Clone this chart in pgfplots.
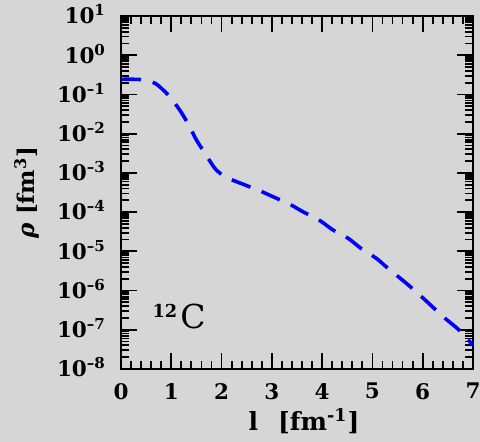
\documentclass[border=0pt]{standalone}
\usepackage{pgfplots}
\pgfplotsset{compat=1.18}
\usepackage{fontspec}
\setmainfont{DejaVu Serif}
\definecolor{bg}{rgb}{0.84,0.84,0.84}
\definecolor{curve}{rgb}{0,0,1}
\begin{document}
\begin{tikzpicture}
\fill[bg] (-60.5pt,-36.5pt) rectangle (179.5pt,184.5pt);
\useasboundingbox (-60.5pt,-36.5pt) rectangle (179.5pt,184.5pt);
\begin{axis}[
  at={(0,0)}, anchor=south west,
  scale only axis, width=176pt, height=176.5pt,
  ymode=log, log basis y=10,
  xmin=0, xmax=7, ymin=1e-8, ymax=1e1,
  xtick={0,1,2,3,4,5,6,7}, minor x tick num=4,
  ytick={1e-8,1e-7,1e-6,1e-5,1e-4,1e-3,1e-2,1e-1,1,10},
  yticklabels={10\smash{\textsuperscript{–8}},10\smash{\textsuperscript{–7}},10\smash{\textsuperscript{–6}},10\smash{\textsuperscript{–5}},10\smash{\textsuperscript{–4}},10\smash{\textsuperscript{–3}},10\smash{\textsuperscript{–2}},10\smash{\textsuperscript{–1}},10\smash{\textsuperscript{0}},10\smash{\textsuperscript{1}}},
  minor ytick={2e-8,3e-8,4e-8,5e-8,6e-8,7e-8,8e-8,9e-8,
               2e-7,3e-7,4e-7,5e-7,6e-7,7e-7,8e-7,9e-7,
               2e-6,3e-6,4e-6,5e-6,6e-6,7e-6,8e-6,9e-6,
               2e-5,3e-5,4e-5,5e-5,6e-5,7e-5,8e-5,9e-5,
               2e-4,3e-4,4e-4,5e-4,6e-4,7e-4,8e-4,9e-4,
               2e-3,3e-3,4e-3,5e-3,6e-3,7e-3,8e-3,9e-3,
               2e-2,3e-2,4e-2,5e-2,6e-2,7e-2,8e-2,9e-2,
               0.2,0.3,0.4,0.5,0.6,0.7,0.8,0.9,
               2,3,4,5,6,7,8,9},
  xticklabels={0,1,2,3,4,5,6,7},
  ticklabel style={font=\fontsize{10.75}{12}\selectfont\bfseries},
  /pgf/number format/assume math mode=true,
  yticklabel style={xshift=-4pt},
  xticklabel style={yshift=-3.5pt},
  major tick length=8pt, minor tick length=4pt,
  every tick/.style={black, line width=0.9pt},
  axis line style={line width=1.3pt},
  tick align=inside,
  xlabel={l\hspace{10pt}[fm\textsuperscript{-1}]},
  ylabel={\textit{ρ} [fm\textsuperscript{3}]},
  xlabel style={font=\fontsize{12.5}{14}\selectfont\bfseries, at={(axis description cs:0.52,-0.147)}, anchor=center},
  ylabel style={font=\fontsize{11.5}{13}\selectfont\bfseries, at={(axis description cs:-0.267,0.5)}, anchor=center},
]
\addplot[curve, line width=1.8pt, dash pattern=on 10pt off 6pt, smooth, tension=0.4] coordinates {
(0,0.243) (0.38,0.24) (0.68,0.192) (0.94,0.0966) (1.17,0.0398) (1.33,0.0182)
(1.50,0.00692) (1.67,0.00316) (1.87,0.00129) (2.07,7.94e-4) (2.43,5.13e-4)
(2.73,3.63e-4) (3.03,2.45e-4) (3.36,1.58e-4) (3.62,1.02e-4) (3.96,6.03e-5)
(4.22,3.47e-5) (4.52,2.14e-5) (4.78,1.17e-5) (5.08,6.61e-6) (5.28,3.98e-6)
(5.68,1.51e-6) (5.98,6.92e-7) (6.41,2.14e-7) (6.71,1.02e-7) (7.0,4.07e-8)
};
\node[anchor=base west, inner sep=0pt] at (axis cs:0.62,1.05e-7)
  {\raisebox{5.5pt}{\fontsize{8.9}{9}\selectfont\bfseries 12}\kern1.5pt\fontsize{16.5}{18}\selectfont C};
\end{axis}
\end{tikzpicture}
\end{document}
